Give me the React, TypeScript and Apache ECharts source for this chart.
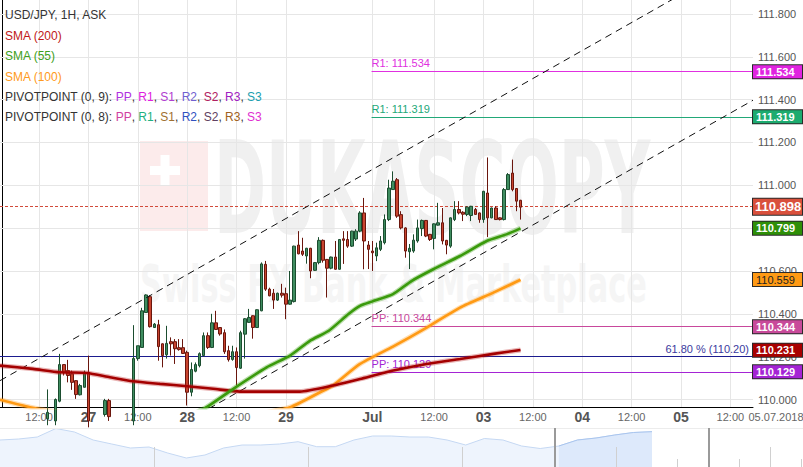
import React, { useEffect, useRef } from 'react';
import * as echarts from 'echarts';

const FONT = '"Liberation Sans", Arial, Helvetica, sans-serif';

// ---------- data ----------
const slotCount = 183; // hourly trading slots shown on the time axis
const axisLabels: Record<number, string> = {
  9: '12:00', 21: '27', 33: '12:00', 45: '28', 57: '12:00', 69: '29', 90: 'Jul',
  105: '12:00', 117: '03', 129: '12:00', 141: '04', 153: '12:00', 165: '05', 177: '12:00',
};
const dayLabels = ['27', '28', '29', 'Jul', '03', '04', '05'];
const dateLabel = '05.07.2018';

// [open, close, low, high]
const candles: number[][] = [
  [109.90, 109.88, 109.85, 109.93], [109.88, 109.86, 109.83, 109.91], [109.86, 109.83, 109.80, 109.89],
  [109.83, 109.85, 109.79, 109.88], [109.85, 109.82, 109.80, 109.88], [109.82, 109.80, 109.76, 109.85],
  [109.80, 109.84, 109.78, 109.87], [109.84, 109.81, 109.79, 109.88], [109.81, 109.86, 109.79, 109.90],
  [109.86, 109.89, 109.83, 109.93], [109.89, 109.91, 109.86, 109.95], [109.91, 109.94, 109.88, 110.047],
  [109.94, 109.90, 109.87, 109.96], [109.90, 110.00, 109.88, 110.005], [109.992, 110.163, 109.987, 110.213],
  [110.163, 110.127, 110.112, 110.165], [110.135, 110.112, 110.080, 110.185], [110.120, 110.080, 110.045, 110.135],
  [110.088, 110.023, 110.003, 110.090], [110.022, 110.065, 110.019, 110.073], [110.057, 110.127, 110.056, 110.135],
  [110.127, 109.90, 109.87, 110.205], [109.90, 109.86, 109.82, 109.93], [109.86, 109.84, 109.80, 109.89],
  [109.84, 109.90, 109.82, 109.93], [109.93, 109.995, 109.92, 110.003], [109.995, 109.92, 109.90, 110.003],
  [109.92, 109.88, 109.85, 109.94], [109.88, 109.85, 109.82, 109.91], [109.85, 109.89, 109.83, 109.92],
  [109.89, 109.87, 109.84, 109.92], [109.87, 109.90, 109.85, 109.94], [109.90, 110.191, 109.88, 110.347],
  [110.191, 110.251, 110.181, 110.251], [110.243, 110.414, 110.243, 110.428], [110.406, 110.488, 110.406, 110.491],
  [110.480, 110.340, 110.336, 110.487], [110.336, 110.352, 110.334, 110.357], [110.349, 110.247, 110.181, 110.372],
  [110.260, 110.205, 110.150, 110.262], [110.209, 110.262, 110.191, 110.344], [110.270, 110.260, 110.205, 110.290],
  [110.270, 110.237, 110.166, 110.282], [110.242, 110.233, 110.228, 110.282], [110.242, 110.215, 110.213, 110.282],
  [110.220, 110.034, 109.972, 110.228], [110.034, 110.140, 110.015, 110.173], [110.132, 110.163, 110.127, 110.173],
  [110.158, 110.214, 110.150, 110.220], [110.205, 110.298, 110.200, 110.313], [110.298, 110.243, 110.236, 110.313],
  [110.243, 110.358, 110.240, 110.400], [110.358, 110.327, 110.325, 110.414], [110.336, 110.306, 110.298, 110.338],
  [110.312, 110.223, 110.213, 110.327], [110.228, 110.186, 110.177, 110.251], [110.187, 110.223, 110.181, 110.251],
  [110.223, 110.149, 110.065, 110.243], [110.146, 110.312, 110.143, 110.321], [110.305, 110.377, 110.191, 110.380],
  [110.360, 110.383, 110.358, 110.423], [110.391, 110.336, 110.284, 110.393], [110.336, 110.419, 110.334, 110.421],
  [110.414, 110.633, 110.412, 110.640], [110.631, 110.515, 110.507, 110.647], [110.515, 110.484, 110.482, 110.522],
  [110.496, 110.464, 110.423, 110.516], [110.464, 110.496, 110.460, 110.499], [110.496, 110.487, 110.476, 110.540],
  [110.494, 110.445, 110.375, 110.522], [110.445, 110.464, 110.443, 110.600], [110.457, 110.716, 110.453, 110.718],
  [110.721, 110.680, 110.678, 110.786], [110.693, 110.678, 110.670, 110.755], [110.670, 110.706, 110.634, 110.708],
  [110.706, 110.600, 110.566, 110.708], [110.603, 110.639, 110.600, 110.641], [110.639, 110.743, 110.631, 110.758],
  [110.743, 110.650, 110.639, 110.747], [110.654, 110.613, 110.476, 110.656], [110.613, 110.665, 110.608, 110.667],
  [110.665, 110.608, 110.606, 110.740], [110.608, 110.747, 110.606, 110.749], [110.750, 110.743, 110.633, 110.786],
  [110.747, 110.716, 110.708, 110.786], [110.716, 110.786, 110.712, 110.788], [110.749, 110.786, 110.740, 110.795],
  [110.786, 110.871, 110.781, 110.879], [110.871, 110.740, 110.608, 110.941], [110.721, 110.701, 110.609, 110.740],
  [110.693, 110.685, 110.600, 110.740], [110.670, 110.708, 110.646, 110.732], [110.701, 110.740, 110.693, 110.763],
  [110.732, 110.840, 110.724, 110.864], [110.840, 110.987, 110.833, 111.026], [110.980, 111.019, 110.978, 111.065],
  [111.026, 110.856, 110.848, 111.034], [110.863, 110.801, 110.794, 110.879], [110.801, 110.693, 110.662, 110.804],
  [110.690, 110.706, 110.609, 110.726], [110.693, 110.744, 110.685, 110.771], [110.740, 110.801, 110.732, 110.840],
  [110.798, 110.836, 110.763, 110.840], [110.836, 110.763, 110.758, 110.838], [110.771, 110.747, 110.740, 110.773],
  [110.752, 110.820, 110.701, 110.822], [110.814, 110.825, 110.812, 110.918], [110.825, 110.740, 110.724, 110.894],
  [110.743, 110.721, 110.678, 110.745], [110.716, 110.848, 110.708, 110.850], [110.840, 110.887, 110.833, 110.926],
  [110.887, 110.871, 110.864, 110.926], [110.874, 110.865, 110.833, 110.879], [110.864, 110.898, 110.856, 110.902],
  [110.859, 110.902, 110.833, 110.904], [110.887, 110.864, 110.862, 110.894], [110.871, 110.840, 110.825, 110.873],
  [110.840, 110.972, 110.825, 110.974], [110.964, 110.848, 110.758, 111.130], [110.848, 110.894, 110.846, 110.896],
  [110.894, 110.840, 110.838, 110.902], [110.848, 110.840, 110.836, 110.850], [110.840, 110.980, 110.836, 110.987],
  [110.980, 111.050, 110.978, 111.057], [111.057, 110.980, 110.972, 111.120], [110.985, 110.926, 110.879, 110.987],
  [110.930, 110.898, 110.840, 110.932],
];

// moving averages: [slot, value]
const sma200: number[][] = [
  [-0.5, 110.158], [7.5, 110.143], [14, 110.127], [20.6, 110.124], [26.2, 110.104], [31.8, 110.085],
  [38.4, 110.073], [45, 110.062], [51.3, 110.050], [57.8, 110.037], [64.4, 110.037], [72.4, 110.037],
  [80.4, 110.065], [87, 110.096], [95.1, 110.135], [103.2, 110.166], [111.3, 110.189], [119.4, 110.213], [126, 110.231],
];
const sma100: number[][] = [
  [-0.5, 109.999], [6.8, 109.964], [14, 109.94], [24, 109.92], [36, 109.91], [48, 109.91], [60, 109.925],
  [70, 109.964], [77.3, 110.034], [80.4, 110.065], [87, 110.166], [95, 110.247], [103.2, 110.336],
  [111.3, 110.429], [119.4, 110.499], [126, 110.559],
];
const sma55: number[][] = [
  [43, 109.90], [49.7, 109.964], [56.2, 110.050], [64.3, 110.150], [70, 110.205], [74.8, 110.274],
  [79.4, 110.321], [84.2, 110.399], [87, 110.437], [89.9, 110.457], [95, 110.492], [99.5, 110.553],
  [104.8, 110.608], [111.3, 110.670], [117.8, 110.740], [122.6, 110.771], [126, 110.799],
];
const channelUpper: number[][] = [[-0.5, 110.088], [182.5, 112.081]];
const channelLower: number[][] = [[-0.5, 109.405], [182.5, 111.397]];

const yTicks = [110.0, 110.2, 110.4, 110.6, 110.8, 111.0, 111.2, 111.4, 111.6, 111.8];
const hiddenTickLabels = [110.8]; // covered by the SMA (55) price tag
const pivotsA = { R1: 111.534, PP: 110.129 }; // PIVOTPOINT (0, 9)
const pivotsB = { R1: 111.319, PP: 110.344 }; // PIVOTPOINT (0, 8)
const pivotStart = 89.8;
const fibLevel = 110.2;
const fibLabel = '61.80 % (110.20)';
const lastPrice = 110.898;

// navigator overview (relative heights)
const navValues = [
  27, 28, 30, 38.5, 35, 27, 23, 19, 20, 14, 9, 12, 19, 22, 22, 23, 25.3, 20.3, 20.3, 27,
  31, 31, 30, 30, 27, 22, 28.5, 27, 21, 18.5, 21, 27, 29, 32, 34.5, 35.3,
];
const navSelectFrom = 30;
const navHandles = [18, 23];
const navMajorTicks = [5, 10, 15, 20, 25];

// ---------- layout ----------
const W = 803, H = 467;
const PLOT_W = 753, PLOT_H = 407;
const NAV_TOP = 428, NAV_H = 39;
const NAV_UNIT = 30.8;
const NAV_STEP = 652 / 35 / NAV_UNIT;

const last = (a: number[][]) => a[a.length - 1][1];

function buildOption() {
  const categories = Array.from({ length: slotCount }, (_, i) => String(i));
  const gridX = Object.keys(axisLabels).map(Number);

  const box = (v: number, bg: string, color = '#fff', fontSize = 11, weight: any = 'bold', lh = 11, pad = [1, 3, 1, 3], w = 43) => ({
    yAxis: v,
    lineStyle: { color: 'rgba(0,0,0,0)', width: 0 },
    label: {
      show: true, position: 'end', distance: 0, formatter: v.toFixed(3),
      backgroundColor: bg, borderColor: '#2a2a2a', borderWidth: 1, padding: pad,
      color, fontSize, fontWeight: weight, fontFamily: FONT, width: w, lineHeight: lh, overflow: 'none',
    },
  });

  const pivotLine = (v: number, name: string, color: string) => [
    {
      coord: [pivotStart, v],
      lineStyle: { color, width: 1, type: 'solid' },
      label: {
        show: true, position: 'insideStartTop', distance: [0, 2], formatter: `${name}: ${v.toFixed(3)}`,
        color, fontSize: 11, fontFamily: FONT,
      },
    },
    { coord: [182.5, v] },
  ];

  const smaSeries = (data: number[][], color: string, halo: string, z: number) => [
    {
      type: 'line', xAxisIndex: 1, yAxisIndex: 0, data, symbol: 'none', smooth: 0.2, z, silent: true,
      lineStyle: { color: halo, width: 5 },
    },
    {
      type: 'line', xAxisIndex: 1, yAxisIndex: 0, data, symbol: 'none', smooth: 0.2, z: z + 0.1, silent: true,
      lineStyle: { color, width: 2.6 },
    },
  ];

  const navPts = navValues.map((v, k) => [k * NAV_STEP, v]);

  const legendText = (y: number, text: string, fill = '#333', rich?: any) => ({
    type: 'text', x: 5, y, z: 50, silent: true,
    style: {
      text, fill, font: `12px ${FONT}`, verticalAlign: 'middle', textVerticalAlign: 'middle', rich,
    },
  });

  const rich1 = {
    a: { fill: '#333' }, pp: { fill: '#b030e0' }, r1: { fill: '#e020e0' }, s1: { fill: '#b040d0' },
    r2: { fill: '#7060d0' }, s2: { fill: '#b02060' }, r3: { fill: '#a020c0' }, s3: { fill: '#20a0b0' },
  };
  const rich2 = {
    a: { fill: '#333' }, pp: { fill: '#d040a0' }, r1: { fill: '#20b080' }, s1: { fill: '#a07030' },
    r2: { fill: '#3050c0' }, s2: { fill: '#604060' }, r3: { fill: '#a06020' }, s3: { fill: '#e030d0' },
  };
  const pivText = (n: number) =>
    `{a|PIVOTPOINT (0, ${n}): }{pp|PP}{a|, }{r1|R1}{a|, }{s1|S1}{a|, }{r2|R2}{a|, }{s2|S2}{a|, }{r3|R3}{a|, }{s3|S3}`;

  return {
    animation: false,
    backgroundColor: '#fff',
    textStyle: { fontFamily: FONT },
    grid: [
      { left: 0, top: 0, width: PLOT_W, height: PLOT_H },
      { left: 0, top: NAV_TOP, width: W, height: NAV_H },
    ],
    xAxis: [
      {
        type: 'category', gridIndex: 0, data: categories, boundaryGap: true,
        axisLine: { show: true, lineStyle: { color: '#000', width: 1 } },
        axisTick: { show: false },
        splitLine: { show: false },
        axisLabel: {
          interval: (i: number) => axisLabels[i] !== undefined,
          margin: 0,
          formatter: (_v: string, i: number) => {
            const t = axisLabels[i] || '';
            return dayLabels.includes(t) ? `{b|${t}}` : `{n|${t}}`;
          },
          rich: {
            b: { fontSize: 14, fontWeight: 'bold', color: '#555', lineHeight: 20, fontFamily: FONT },
            n: { fontSize: 11, color: '#666', lineHeight: 20, fontFamily: FONT },
          },
        },
      },
      { type: 'value', gridIndex: 0, min: -0.5, max: slotCount - 0.5, show: false },
      {
        type: 'value', gridIndex: 1, min: 0, max: W / NAV_UNIT, interval: 1,
        axisLine: { show: false }, axisLabel: { show: false }, splitLine: { show: false },
        axisTick: { show: true, inside: true, length: 8, lineStyle: { color: '#cfcfcf' } },
      },
    ],
    yAxis: [
      {
        type: 'value', gridIndex: 0, position: 'right', min: 109.965, max: 111.865, scale: true,
        axisLine: { show: true, lineStyle: { color: '#000', width: 1 } },
        axisLabel: { show: false }, axisTick: { show: false }, splitLine: { show: false },
      },
      { type: 'value', gridIndex: 1, min: 0, max: NAV_H, show: false },
    ],
    series: [
      {
        type: 'line', xAxisIndex: 1, yAxisIndex: 0, data: [], z: 1, silent: true,
        markLine: {
          silent: true, symbol: 'none', z: 1, animation: false,
          data: [
            ...gridX.map((i) => ({ xAxis: i, lineStyle: { color: '#e6e6e6', width: 1, type: 'solid' }, label: { show: false } })),
            ...yTicks.map((v) => ({
              yAxis: v, lineStyle: { color: '#e6e6e6', width: 1, type: 'solid' },
              label: {
                show: !hiddenTickLabels.includes(v), position: 'end', distance: 5, formatter: v.toFixed(3),
                color: '#555', fontSize: 11, fontFamily: FONT,
              },
            })),
          ],
        },
      },
      {
        type: 'line', xAxisIndex: 1, yAxisIndex: 0, data: [], z: 1.5, silent: true,
        markLine: {
          silent: true, symbol: 'none', z: 1.5, animation: false,
          data: [
            {
              yAxis: fibLevel, lineStyle: { color: '#1b1b8f', width: 1, type: 'solid' },
              label: { show: true, position: 'insideEndTop', distance: [4, 2], formatter: fibLabel, color: '#3a3a9e', fontSize: 11, fontFamily: FONT },
            },
            { yAxis: lastPrice, lineStyle: { color: '#d24a3a', width: 1, type: [3, 2] }, label: { show: false } },
            pivotLine(pivotsA.R1, 'R1', '#e030e0'),
            pivotLine(pivotsB.R1, 'R1', '#22a878'),
            pivotLine(pivotsB.PP, 'PP', '#c8489c'),
            pivotLine(pivotsA.PP, 'PP', '#a424d4'),
          ],
        },
      },
      {
        type: 'candlestick', xAxisIndex: 0, yAxisIndex: 0, data: candles, barWidth: 3, z: 2, silent: true,
        itemStyle: { color: '#3f8d60', color0: '#c8442f', borderColor: '#1b4d2f', borderColor0: '#6a160d', borderWidth: 1 },
      },
      {
        type: 'line', xAxisIndex: 1, yAxisIndex: 0, data: channelUpper, symbol: 'none', z: 3, silent: true,
        lineStyle: { color: '#111', width: 1, type: [7, 5] },
      },
      {
        type: 'line', xAxisIndex: 1, yAxisIndex: 0, data: channelLower, symbol: 'none', z: 3, silent: true,
        lineStyle: { color: '#111', width: 1, type: [7, 5] },
      },
      ...smaSeries(sma100, '#ff9a14', 'rgba(255,160,40,0.35)', 4),
      ...smaSeries(sma200, '#a40000', 'rgba(190,40,40,0.35)', 4.2),
      ...smaSeries(sma55, '#3a9a0c', 'rgba(60,160,20,0.35)', 4.4),
      {
        type: 'line', xAxisIndex: 1, yAxisIndex: 0, data: [], z: 10, silent: true,
        markLine: {
          silent: true, symbol: 'none', z: 10, animation: false,
          data: [
            box(pivotsA.R1, '#e024e0'),
            box(pivotsB.R1, '#1cab6f'),
            box(lastPrice, '#d9503c', '#fff', 13, 'bold', 14, [1, 2, 1, 2], 45),
            box(last(sma55), '#2e8f08'),
            box(last(sma100), '#ff9a14', '#222', 11, 'normal'),
            box(pivotsB.PP, '#c84a9a'),
            box(last(sma200), '#a80000'),
            box(pivotsA.PP, '#a424d4'),
          ],
        },
      },
      // navigator
      {
        type: 'line', xAxisIndex: 2, yAxisIndex: 1, data: navPts, symbol: 'none', z: 1, silent: true,
        lineStyle: { color: '#c5d8f3', width: 1 }, areaStyle: { color: '#eef4fd', opacity: 1 },
      },
      {
        type: 'line', xAxisIndex: 2, yAxisIndex: 1, data: navPts.slice(navSelectFrom), symbol: 'none', z: 2, silent: true,
        lineStyle: { color: '#a9c5ee', width: 1 }, areaStyle: { color: '#dde9fb', opacity: 1 },
      },
      {
        type: 'line', xAxisIndex: 2, yAxisIndex: 1, data: [], z: 3, silent: true,
        markLine: {
          silent: true, symbol: 'none', z: 3, animation: false,
          data: [
            { yAxis: NAV_H, lineStyle: { color: '#ececec', width: 1, type: 'solid' }, label: { show: false } },
            ...navHandles.map((x) => ({ xAxis: x, lineStyle: { color: '#9a9a9a', width: 2, type: 'solid' }, label: { show: false } })),
            ...navMajorTicks.map((x) => [
              { coord: [x, 0], lineStyle: { color: '#d0d0d0', width: 1, type: 'solid' }, label: { show: false } },
              { coord: [x, 20] },
            ]),
          ],
        },
      },
    ],
    graphic: [
      {
        type: 'rect', z: 0, silent: true,
        shape: { x: 140, y: 141, width: 68, height: 90 },
        style: { fill: '#fcebeb' },
      },
      { type: 'rect', z: 0, silent: true, shape: { x: 150, y: 166, width: 30, height: 9 }, style: { fill: '#fff' } },
      { type: 'rect', z: 0, silent: true, shape: { x: 160.5, y: 155, width: 9, height: 31 }, style: { fill: '#fff' } },
      {
        type: 'text', x: 214, y: 188, scaleX: 0.545, z: 0, silent: true,
        style: {
          text: 'DUKASCOPY', fill: '#f0f0f0', font: `bold 128px "DejaVu Sans Condensed", "DejaVu Sans", sans-serif`,
          verticalAlign: 'middle', textVerticalAlign: 'middle',
        },
      },
      {
        type: 'text', x: 140, y: 284, scaleX: 0.585, z: 0, silent: true,
        style: {
          text: 'Swiss FX Bank & Marketplace', fill: '#f5f5f5', font: `bold 52px "DejaVu Sans", sans-serif`,
          verticalAlign: 'middle', textVerticalAlign: 'middle',
        },
      },
      legendText(15, 'USD/JPY, 1H, ASK'),
      legendText(35.5, 'SMA (200)', '#c01818'),
      legendText(56, 'SMA (55)', '#40a020'),
      legendText(76.5, 'SMA (100)', '#ff9a20'),
      legendText(97, pivText(9), '#333', rich1),
      legendText(117, pivText(8), '#333', rich2),
      {
        type: 'text', x: 776, y: 417, z: 50, silent: true,
        style: {
          text: dateLabel, fill: '#666', font: `11px ${FONT}`,
          align: 'center', textAlign: 'center', verticalAlign: 'middle', textVerticalAlign: 'middle',
        },
      },
    ],
  };
}

export default function App() {
  const ref = useRef<HTMLDivElement>(null);
  useEffect(() => {
    document.body.style.margin = '0';
    const chart = echarts.init(ref.current as HTMLDivElement, null, { renderer: 'svg' });
    chart.setOption(buildOption() as any);
    return () => chart.dispose();
  }, []);
  return (
    <div
      ref={ref}
      style={{ position: 'absolute', left: 0, top: 0, width: W, height: H, background: '#fff' }}
    />
  );
}
